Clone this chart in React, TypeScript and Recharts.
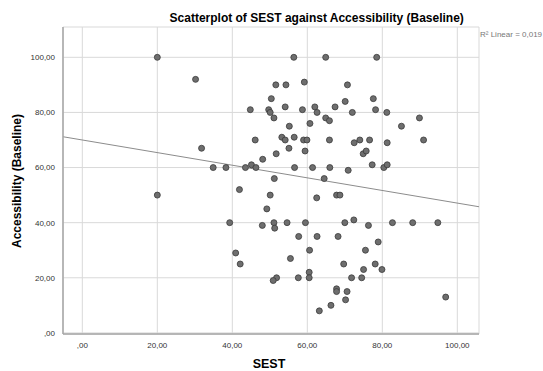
import React from 'react';
import { ScatterChart, Scatter, XAxis, YAxis, CartesianGrid, ReferenceLine } from 'recharts';

// SEST (x) and Accessibility (Baseline) (y), one entry per case
const sestValues = [
  20, 30.2, 44.8, 46.1, 31.8, 34.9, 38.3, 43.5, 45.1, 46.3,
  20, 41.9, 39.3, 40.9, 42.1, 56.4, 64.9, 78.5, 51.6, 54.3,
  59.2, 70.7, 50.4, 70.1, 77.6, 49.7, 50.1, 54.1, 58.7, 62,
  62.6, 67.4, 72, 78.2, 81.2, 51.1, 64.9, 65.9, 89.9, 55.2,
  60.7, 85.1, 53.2, 54.1, 56.5, 59, 59.9, 65.9, 72.5, 74,
  76.6, 81.3, 91, 55.1, 59.4, 51.7, 48.1, 74.9, 75.7, 56.6,
  61.4, 66, 77.3, 80.4, 81.3, 70.9, 51.2, 64.5, 50.1, 62.5,
  67.8, 68.7, 49.2, 48, 51.1, 51.3, 54.6, 59.5, 70, 72.4,
  76.3, 82.7, 88.1, 94.8, 57.7, 62.6, 68.2, 78.9, 60.6, 75.5,
  55.5, 69.7, 78.1, 75, 79.9, 60.5, 51.8, 50.9, 57.6, 60.5,
  71.8, 74.5, 67.8, 67.8, 70.6, 96.9, 70.2, 66.3, 63.2,
];
const accessValues = [
  100, 92, 81, 70, 67, 60, 60, 60, 61, 60,
  50, 52, 40, 29, 25, 100, 100, 100, 90, 90,
  91, 90, 85, 84, 85, 81, 80, 82, 81, 82,
  80, 82, 80, 81, 80, 78, 78, 77, 78, 75,
  76, 75, 71, 70, 71, 70, 70, 70, 69, 70,
  70, 69, 70, 67, 66, 65, 63, 65, 66, 60,
  60, 60, 61, 60, 61, 59, 56, 56, 50, 49,
  50, 50, 45, 39, 40, 38, 40, 40, 40, 41,
  39, 40, 40, 40, 35, 35, 35, 33, 30, 30,
  27, 25, 25, 23, 23, 22, 20, 19, 20, 20,
  20, 20, 16, 15, 15, 13, 12, 10, 8,
];

const tickValues = [0, 20, 40, 60, 80, 100];
const xDomain = [-5.15, 105.78];
const yDomain = [-0.4, 111.0];

// linear fit, R² = 0,019
const fitIntercept = 70.0;
const fitSlope = -0.229;
const rSquaredLabel = 'R² Linear = 0,019';

const points = sestValues.map((x, i) => ({ x, y: accessValues[i] }));
const fitSegment = xDomain.map((x) => ({ x, y: fitIntercept + fitSlope * x }));

const fmt = (v: number) => v.toFixed(2).replace('.', ',').replace(/^0/, '');

const font = '"Liberation Sans", Arial, sans-serif';

const Dot = (props: any) => (
  <circle cx={props.cx} cy={props.cy} r={3} fill="#6e6e6e" stroke="#3a3a3a" strokeWidth={0.8} />
);

export default function App() {
  return (
    <div style={{ position: 'absolute', left: 0, top: 0, width: 543, height: 371, background: '#fff', fontFamily: font }}>
      <ScatterChart width={543} height={371} margin={{ top: 27, right: 64, bottom: 0, left: 0 }}>
        <CartesianGrid stroke="#d9d9d9" strokeWidth={1} />
        <XAxis
          type="number"
          dataKey="x"
          domain={xDomain}
          ticks={tickValues}
          allowDataOverflow
          height={37}
          tickLine={false}
          tickFormatter={fmt}
          stroke="#a6a6a6"
          strokeWidth={1.5}
          tick={{ fontSize: 8, fill: '#333', fontFamily: font }}
        />
        <YAxis
          type="number"
          dataKey="y"
          domain={yDomain}
          ticks={tickValues}
          allowDataOverflow
          width={63}
          tickLine={false}
          tickFormatter={fmt}
          stroke="#a6a6a6"
          strokeWidth={1.5}
          tick={{ fontSize: 8, fill: '#333', fontFamily: font }}
        />
        <ReferenceLine segment={fitSegment} stroke="#8c8c8c" strokeWidth={1} ifOverflow="visible" />
        <Scatter data={points} shape={Dot} isAnimationActive={false} />
      </ScatterChart>
      <div style={{ position: 'absolute', left: 316.7, top: 11.5, transform: 'translateX(-50%)', whiteSpace: 'nowrap', fontSize: 12, lineHeight: '12px', fontWeight: 'bold', color: '#000' }}>
        Scatterplot of SEST against Accessibility (Baseline)
      </div>
      <div style={{ position: 'absolute', left: 480, top: 30.5, whiteSpace: 'nowrap', fontSize: 8, lineHeight: '8px', color: '#777' }}>
        {rSquaredLabel}
      </div>
      <div style={{ position: 'absolute', left: 269, top: 358.4, transform: 'translateX(-50%)', whiteSpace: 'nowrap', fontSize: 12.5, lineHeight: '12.5px', fontWeight: 'bold', color: '#000' }}>
        SEST
      </div>
      <div style={{ position: 'absolute', left: 17, top: 180.5, transform: 'translate(-50%, -50%) rotate(-90deg)', whiteSpace: 'nowrap', fontSize: 12, lineHeight: '12px', fontWeight: 'bold', color: '#000' }}>
        Accessibility (Baseline)
      </div>
    </div>
  );
}
